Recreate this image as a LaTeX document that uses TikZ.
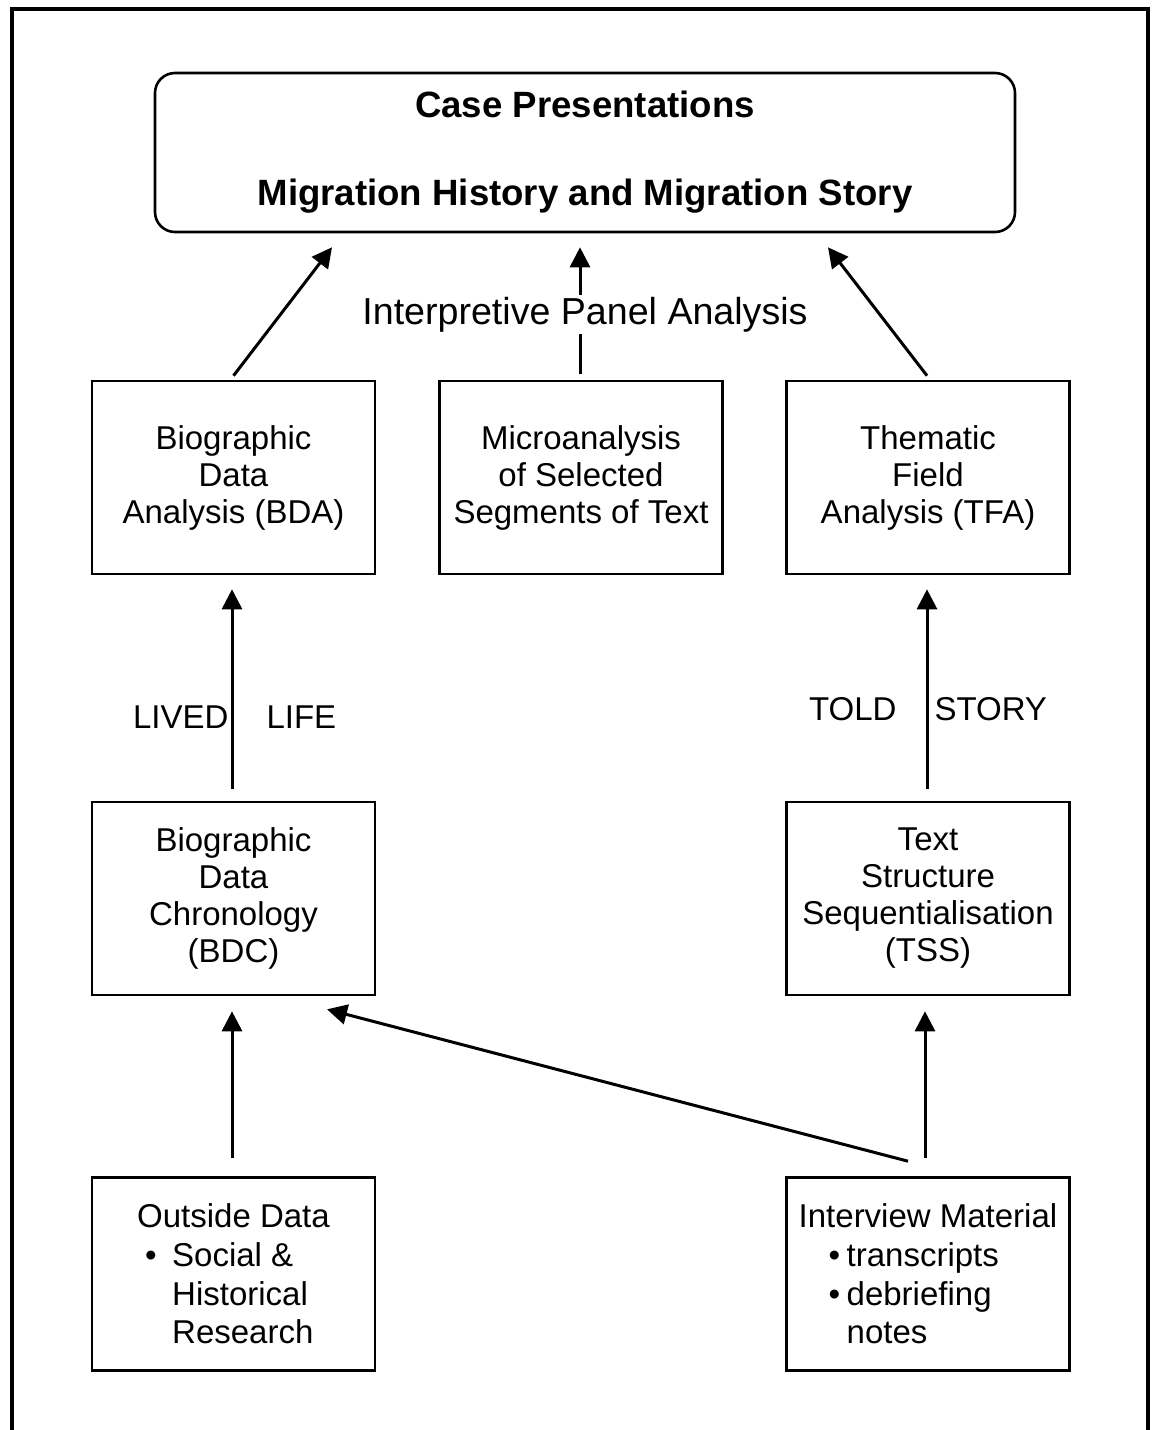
\documentclass[tikz,border=0pt]{standalone}
\usepackage{fontspec}
\setmainfont{Liberation Sans}
\usetikzlibrary{arrows.meta}
\tikzset{
  >={Triangle[length=10pt,width=10pt]},
}
\tikzstyle{stage}=[draw,line width=1.3pt,minimum width=141.5pt,minimum height=96.5pt,align=center,inner sep=2pt]
\tikzstyle{source}=[stage,align=left,font=\fontsize{16.5}{19.3}\selectfont]
\tikzstyle{flow}=[line width=1.5pt,->]
\tikzstyle{every node}=[font=\fontsize{16.5}{18.5}\selectfont]

\begin{document}
\begin{tikzpicture}[x=0.5pt,y=-0.5pt]
  \useasboundingbox (0,0) rectangle (1154,1430);
  \draw[line width=2pt] (12,1430) -- (12,9) -- (1148,9) -- (1148,1430);
  % case presentations
  \node[draw,line width=1.3pt,rounded corners=10pt,minimum width=430pt,minimum height=79.5pt,
    align=center,font=\fontsize{18.3}{22}\selectfont\bfseries] (cases) at (585,152.5)
    {Case Presentations\\[22pt]Migration History and Migration Story};
  % analyses
  \node[stage] (bda) at (233.5,477.5) {Biographic\\Data\\Analysis (BDA)};
  \node[stage] (micro) at (581,477.5) {Microanalysis\\of Selected\\Segments of Text};
  \node[stage] (tfa) at (928,477.5) {Thematic\\Field\\Analysis (TFA)};
  \node[stage] (bdc) at (233.5,898.5) {Biographic\\Data\\Chronology\\(BDC)};
  \node[stage] (tss) at (928,898.5) {Text\\Structure\\Sequentialisation\\(TSS)};
  % material
  \node[source] (outside) at (233.5,1274) {Outside Data\\
    \makebox[17.5pt][l]{\hspace{4pt}\textbullet}Social \&\\
    \hspace*{17.5pt}Historical\\
    \hspace*{17.5pt}Research};
  \node[source] (interview) at (928,1274) {Interview Material\\
    \makebox[24pt][l]{\hspace{15pt}\textbullet}transcripts\\
    \makebox[24pt][l]{\hspace{15pt}\textbullet}debriefing\\
    \hspace*{24pt}notes};

  \draw[flow] ([yshift=2pt]bda.north) -- ([xshift=-126.5pt,yshift=-7pt]cases.south);
  \draw[flow] ([xshift=-0.5pt,yshift=3pt]micro.north) -- ([xshift=-0.5pt,yshift=-7pt]micro.north |- cases.south)
    node[midway,fill=white,inner sep=1pt,xshift=2.5pt,yshift=-2pt,font=\fontsize{18.8}{22}\selectfont]{Interpretive Panel Analysis};
  \draw[flow] ([xshift=-0.5pt,yshift=2pt]tfa.north) -- ([xshift=121.5pt,yshift=-7pt]cases.south);

  \draw[flow] ([xshift=-0.75pt,yshift=6pt]bdc.north) -- ([xshift=-0.75pt,yshift=-7pt]bda.south)
    node[pos=0.36,left,inner sep=1pt]{LIVED}
    node[pos=0.36,right,inner sep=0pt,xshift=16.5pt]{LIFE};
  \draw[flow] ([xshift=-0.5pt,yshift=6pt]tss.north) -- ([xshift=-0.5pt,yshift=-7pt]tfa.south)
    node[pos=0.40,left,inner sep=0pt,xshift=-14.5pt]{TOLD}
    node[pos=0.40,right,inner sep=0pt,xshift=3pt]{STORY};

  \draw[flow] ([xshift=-0.75pt,yshift=9pt]outside.north) -- ([xshift=-0.75pt,yshift=-7.5pt]bdc.south);
  \draw[flow] ([xshift=-1.5pt,yshift=9pt]interview.north) -- ([xshift=-1.5pt,yshift=-7.5pt]tss.south);
  \draw[flow] ([xshift=-10pt,yshift=7.5pt]interview.north) -- ([xshift=46.75pt,yshift=-6.5pt]bdc.south);
\end{tikzpicture}
\end{document}
